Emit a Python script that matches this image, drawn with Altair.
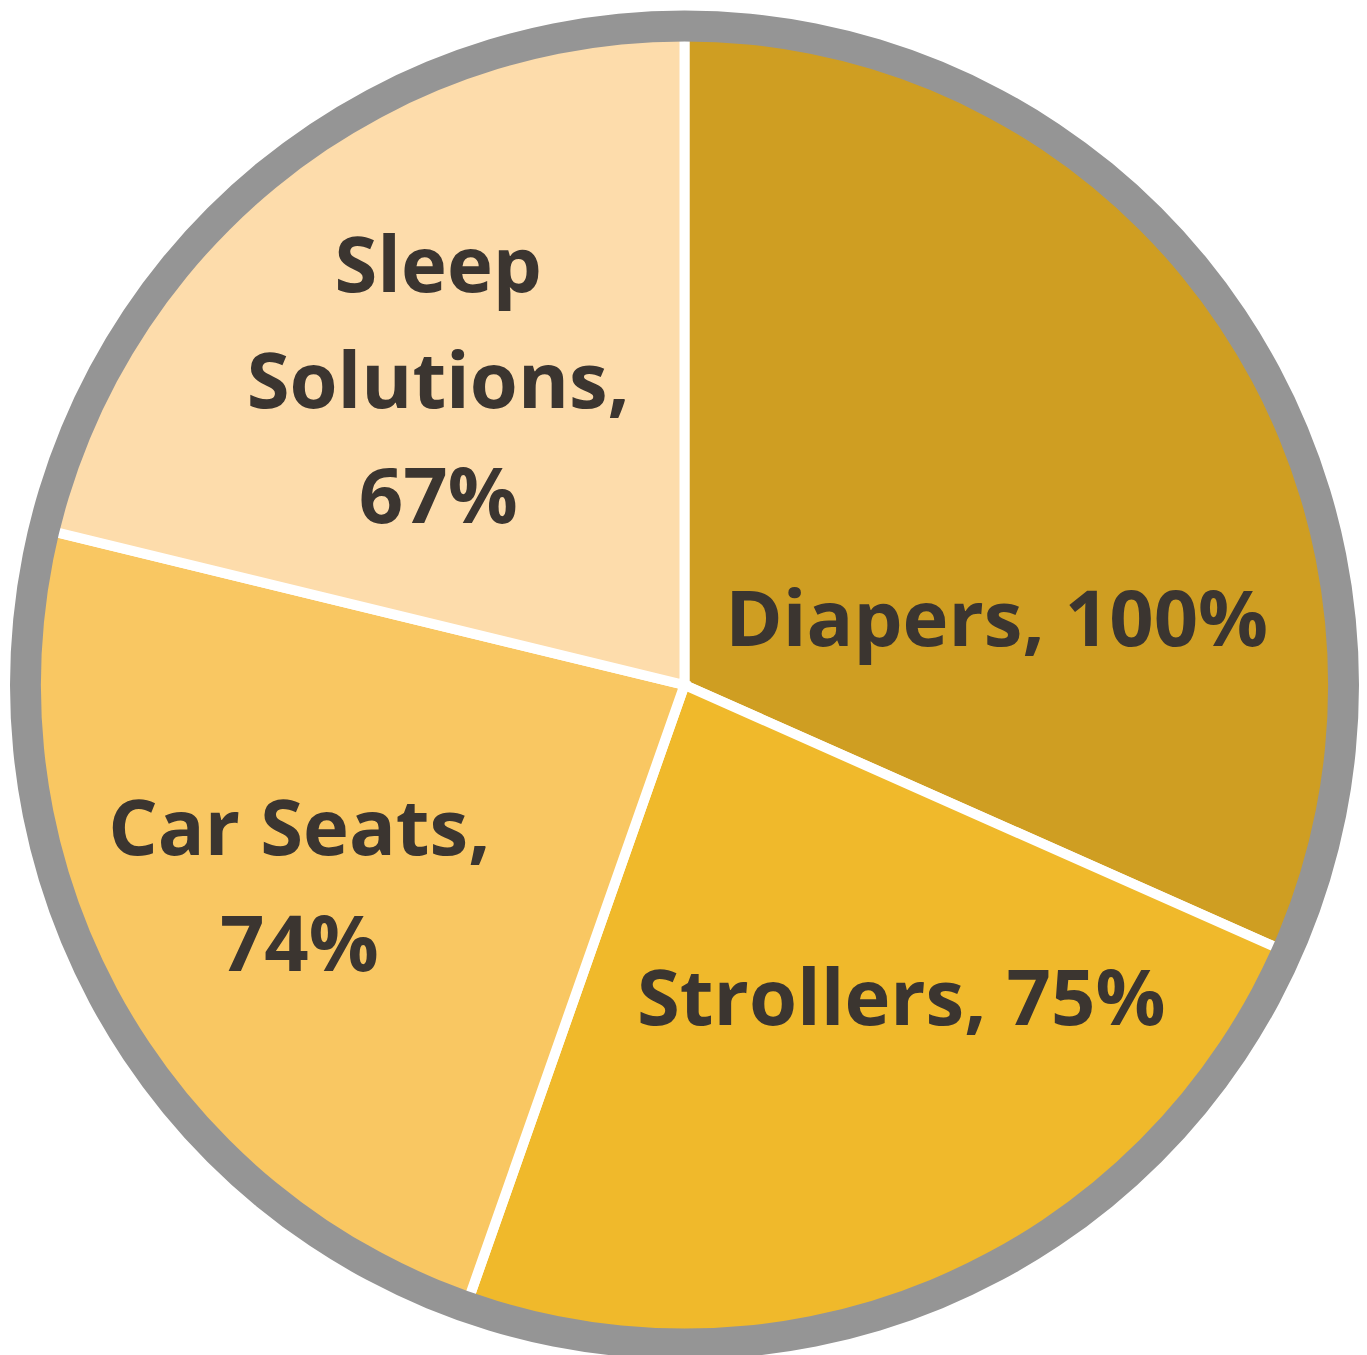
import altair as alt
import pandas as pd

categories = ["Diapers", "Strollers", "Car Seats", "Sleep Solutions"]
values = [100, 75, 74, 67]
labels = ["Diapers, 100%", "Strollers, 75%", "Car Seats,\n74%", "Sleep\nSolutions,\n67%"]
colors = ["#CF9E22", "#F0B92B", "#F9C762", "#FDDCAB"]

df = pd.DataFrame({
    "category": categories,
    "value": values,
    "idx": list(range(len(categories))),
    "label": labels,
})
total = float(sum(values))

CX, CY = 679, 674
R_PIE = 652
TWO_PI = 6.283185307179586

pie = alt.Chart(df).mark_arc(radius=R_PIE, stroke="white", strokeWidth=10).encode(
    theta=alt.Theta("value:Q", stack=True),
    order=alt.Order("idx:Q"),
    color=alt.Color("category:N", scale=alt.Scale(domain=categories, range=colors), legend=None),
    x=alt.value(CX),
    y=alt.value(CY),
)

ring = alt.Chart(pd.DataFrame({"k": [0]})).mark_arc(
    radius=677, radius2=646, theta=0, theta2=TWO_PI, color="#959595"
).encode(x=alt.value(CX), y=alt.value(CY))

offsets = {
    "Diapers": (-22, 156),
    "Strollers": (59, -49),
    "Car Seats": (-35, -43),
    "Sleep Solutions": (0, -103),
}

text_layers = []
for cat in categories:
    ddx, ddy = offsets[cat]
    t = alt.Chart(df).transform_window(
        cum="sum(value)", sort=[alt.SortField("idx")]
    ).transform_calculate(
        mid="datum.cum - datum.value / 2"
    ).transform_filter(
        alt.datum.category == cat
    ).mark_text(
        radius=400, dx=ddx, dy=ddy, fontSize=78, fontWeight="bold", font="Open Sans",
        color="#3B3530", lineBreak="\n", lineHeight=116, align="center", baseline="middle",
    ).encode(
        theta=alt.Theta("mid:Q", stack=None, scale=alt.Scale(domain=[0, total], range=[0, TWO_PI])),
        text="label:N",
        x=alt.value(CX),
        y=alt.value(CY),
    )
    text_layers.append(t)

chart = alt.layer(pie, ring, *text_layers).properties(
    width=1350, height=1339, padding=0, background="white"
).configure_view(strokeWidth=0)

chart.save("out.html", embed_options={"renderer": "svg", "actions": False})
